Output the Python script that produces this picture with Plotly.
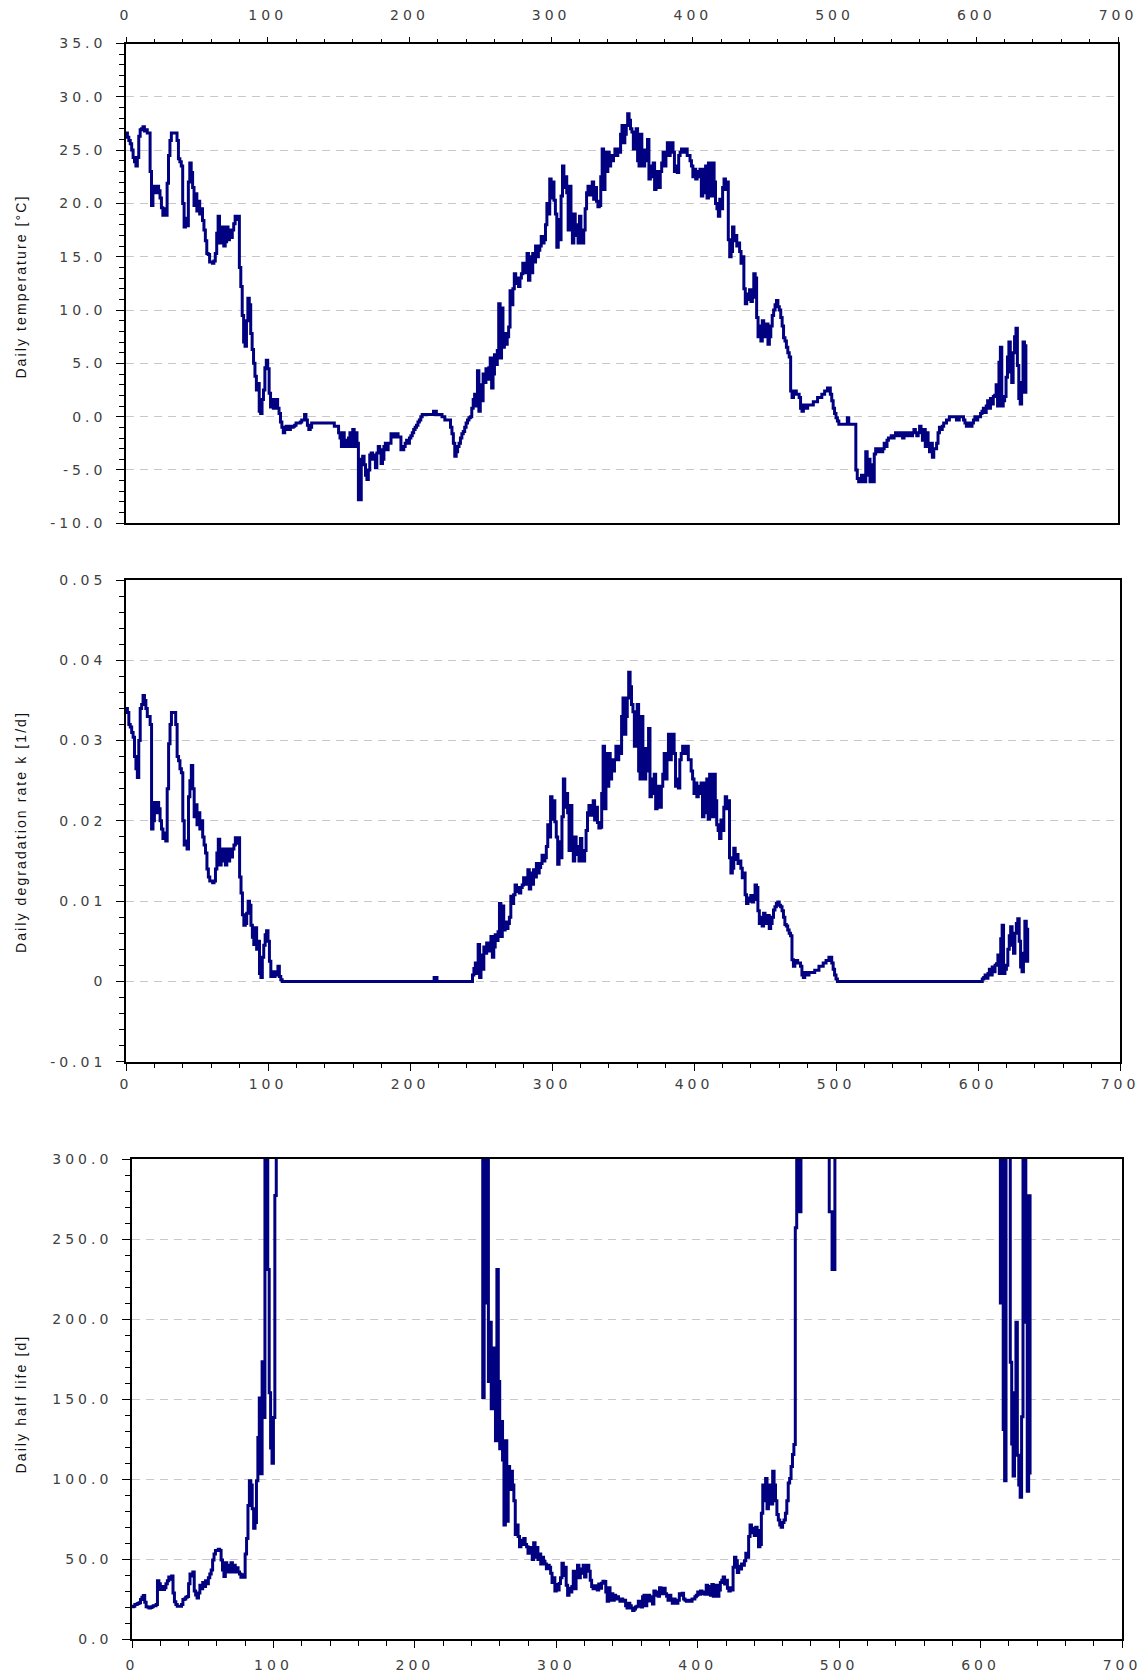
import plotly.graph_objects as go

# Daily mean temperature [°C], one value per day starting at day 0
temperature = [
    26.6, 26.2, 25.9, 25.6, 25.0, 24.3, 23.9, 23.5, 24.3, 26.3,
    26.9, 27.0, 27.2, 26.8, 26.9, 26.6, 26.6, 23.0, 19.8, 21.5,
    21.6, 21.0, 21.6, 21.2, 20.5, 19.6, 18.9, 19.5, 18.9, 21.9,
    24.5, 25.9, 26.6, 26.6, 26.6, 26.6, 25.9, 24.2, 23.9, 23.5,
    20.0, 17.8, 18.6, 17.9, 22.0, 23.8, 22.9, 21.5, 19.8, 20.9,
    19.3, 20.2, 19.0, 19.5, 18.4, 17.5, 16.5, 15.3, 15.2, 14.5,
    14.5, 14.4, 14.6, 15.3, 17.2, 18.8, 16.3, 16.8, 17.8, 16.0,
    16.4, 17.8, 16.6, 17.5, 16.8, 17.5, 18.1, 18.8, 18.5, 18.8,
    14.0, 12.2, 9.5, 7.0, 6.6, 9.0, 11.1, 10.5, 7.8, 6.3,
    5.0, 3.8, 2.5, 3.1, 0.5, 0.3, 1.6, 2.5, 4.6, 5.3,
    4.5, 2.2, 0.9, 1.6, 0.8, 1.3, 1.6, 0.8, 0.3, -0.5,
    -1.0, -1.5, -1.2, -0.9, -1.0, -1.2, -0.9, -1.0, -0.9, -0.8,
    -0.6, -0.6, -0.6, -0.5, -0.3, -0.3, 0.2, -0.3, -0.8, -1.2,
    -1.0, -0.6, -0.6, -0.6, -0.6, -0.6, -0.6, -0.6, -0.6, -0.6,
    -0.6, -0.6, -0.6, -0.6, -0.6, -0.6, -0.6, -0.9, -0.9, -0.9,
    -1.5, -2.0, -2.8, -1.5, -2.8, -2.2, -2.8, -2.0, -1.5, -2.8,
    -1.2, -2.8, -1.5, -2.5, -7.8, -7.8, -4.0, -3.7, -4.5, -5.5,
    -5.9, -5.0, -3.6, -3.4, -4.0, -3.6, -4.8, -3.4, -2.8, -3.1,
    -4.4, -4.0, -2.8, -2.5, -3.1, -2.5, -2.5, -1.6, -1.6, -1.9,
    -1.6, -1.6, -1.9, -1.9, -3.1, -3.1, -2.8, -2.5, -2.2, -2.5,
    -2.0, -1.8, -1.5, -1.2, -1.0, -0.8, -0.5, -0.3, 0.0, 0.2,
    0.2, 0.2, 0.2, 0.2, 0.2, 0.2, 0.2, 0.5, 0.5, 0.2,
    0.2, 0.2, 0.2, 0.0, 0.0, -0.3, -0.3, -0.3, -0.3, -1.0,
    -1.6, -2.5, -3.7, -3.3, -2.8, -2.5, -2.0, -1.6, -1.4, -1.0,
    -0.6, -0.3, -0.1, 0.0, 0.8, 1.6, 2.1, 1.0, 4.3, 0.5,
    3.0, 1.5, 4.0, 3.2, 4.5, 3.5, 4.6, 5.5, 2.7, 4.0,
    5.8, 4.9, 6.2, 10.6, 5.5, 10.2, 6.5, 7.8, 6.8, 7.5,
    8.4, 11.8, 10.5, 12.0, 13.4, 12.5, 13.0, 12.2, 13.0, 13.4,
    14.4, 13.5, 14.0, 15.3, 12.8, 15.0, 13.5, 15.3, 14.5, 16.0,
    15.0, 15.6, 16.0, 16.9, 16.3, 16.6, 18.0, 20.0, 19.0, 22.3,
    20.5, 22.0, 20.3, 19.0, 15.9, 18.5, 16.6, 20.7, 23.5, 21.5,
    22.5, 21.0, 17.5, 21.6, 19.0, 16.3, 19.0, 18.0, 17.0, 16.3,
    18.8, 17.0, 16.3, 17.5, 19.5, 21.0, 21.6, 20.8, 21.0, 22.0,
    20.4, 21.5, 20.2, 19.7, 19.8, 22.5, 25.1, 21.3, 24.8, 23.0,
    24.8, 23.5, 24.5, 24.0, 24.5, 25.1, 24.5, 25.1, 24.8, 26.5,
    27.3, 25.7, 26.5, 27.3, 28.4, 27.8, 27.0, 26.7, 25.1, 26.0,
    27.0, 24.0, 23.5, 26.5, 25.0, 23.5, 24.0, 25.0, 26.0, 22.3,
    23.5, 22.5, 23.8, 21.3, 22.5, 23.0, 21.5, 23.0, 23.8, 24.8,
    23.5, 24.8, 25.7, 24.5, 25.0, 25.7, 24.8, 23.0, 23.5, 22.9,
    24.5, 24.8, 25.1, 25.1, 24.8, 25.1, 24.5, 24.5, 24.0, 23.5,
    22.5, 23.2, 22.3, 23.0, 22.5, 23.2, 20.7, 23.2, 21.0, 23.5,
    20.5, 23.8, 21.5, 20.7, 23.8, 22.0, 20.0, 19.5, 18.8, 20.4,
    19.5, 21.5, 22.3, 21.3, 22.0, 16.6, 15.0, 15.5, 17.8, 16.5,
    17.0, 16.0, 16.3, 15.5, 14.4, 15.0, 12.0, 10.6, 11.5, 11.0,
    11.9, 10.8, 11.2, 13.4, 13.0, 9.3, 7.5, 8.5, 7.1, 9.0,
    8.0, 7.5, 8.7, 6.8, 7.5, 8.5, 9.5, 10.0, 10.5, 10.9,
    10.3, 10.0, 9.3, 8.5, 7.4, 7.1, 6.5, 6.0, 5.6, 2.4,
    1.8, 2.1, 2.4, 2.1, 2.1, 1.8, 0.8, 0.5, 1.1, 0.8,
    0.8, 1.1, 1.1, 1.1, 1.1, 1.4, 1.4, 1.4, 1.8, 1.8,
    1.8, 2.1, 2.1, 2.4, 2.4, 2.7, 2.7, 2.1, 1.5, 0.8,
    0.3, -0.1, -0.4, -0.7, -0.7, -0.7, -0.7, -0.7, -0.7, -0.1,
    -0.7, -0.7, -0.7, -0.7, -0.7, -5.0, -5.8, -6.1, -6.1, -5.5,
    -6.1, -6.1, -3.3, -5.5, -4.0, -6.1, -4.5, -6.1, -3.5, -3.0,
    -3.0, -3.3, -3.0, -3.3, -3.0, -2.5, -2.8, -2.2, -2.0, -2.0,
    -1.8, -2.0, -1.8, -1.5, -1.8, -1.5, -1.8, -1.5, -2.0, -1.5,
    -1.5, -1.8, -1.5, -1.5, -1.8, -1.5, -1.2, -1.5, -1.8, -1.5,
    -0.9, -1.5, -2.2, -1.2, -2.8, -1.5, -2.5, -3.3, -2.5, -3.8,
    -3.0, -3.0, -2.5, -1.5, -1.0, -1.2, -0.9, -0.6, -0.6, -0.3,
    -0.3, 0.0, 0.0, 0.0, 0.0, 0.0, -0.3, -0.3, 0.0, 0.0,
    0.0, -0.3, -0.6, -0.9, -0.9, -0.6, -0.9, -0.6, -0.3, 0.0,
    -0.3, 0.0, 0.0, 0.3, 0.5, 0.8, 0.4, 1.0, 1.5, 0.8,
    1.7, 1.2, 1.9, 2.0, 3.0, 1.0, 5.1, 6.5, 1.0, 1.5,
    1.9, 3.7, 5.6, 7.0, 4.2, 3.2, 6.0, 7.5, 8.3, 4.8,
    1.7, 1.2, 3.2, 7.0, 2.3, 6.8,
]

# Daily degradation rate constant k [1/d]
rate_k = [
    0.0340, 0.0335, 0.0320, 0.0317, 0.0310, 0.0304, 0.0280, 0.0265, 0.0254, 0.0300,
    0.0340, 0.0345, 0.0356, 0.0350, 0.0340, 0.0330, 0.0330, 0.0320, 0.0190, 0.0200,
    0.0223, 0.0210, 0.0223, 0.0215, 0.0200, 0.0190, 0.0178, 0.0185, 0.0175, 0.0240,
    0.0296, 0.0320, 0.0335, 0.0335, 0.0335, 0.0320, 0.0280, 0.0275, 0.0265, 0.0260,
    0.0200, 0.0170, 0.0175, 0.0165, 0.0230, 0.0250, 0.0269, 0.0240, 0.0205, 0.0220,
    0.0195, 0.0210, 0.0190, 0.0200, 0.0180, 0.0170, 0.0160, 0.0140, 0.0130, 0.0125,
    0.0125, 0.0123, 0.0125, 0.0140, 0.0160, 0.0177, 0.0145, 0.0150, 0.0165, 0.0150,
    0.0145, 0.0165, 0.0150, 0.0165, 0.0155, 0.0165, 0.0170, 0.0179, 0.0172, 0.0179,
    0.0130, 0.0110, 0.0083, 0.0070, 0.0072, 0.0085, 0.0100, 0.0095, 0.0070, 0.0055,
    0.0046, 0.0067, 0.0040, 0.0050, 0.0010, 0.0005, 0.0030, 0.0045, 0.0058, 0.0063,
    0.0050, 0.0025, 0.0006, 0.0012, 0.0006, 0.0008, 0.0012, 0.0019, 0.0006, 0.0002,
    0, 0, 0, 0, 0, 0, 0, 0, 0, 0,
    0, 0, 0, 0, 0, 0, 0, 0, 0, 0,
    0, 0, 0, 0, 0, 0, 0, 0, 0, 0,
    0, 0, 0, 0, 0, 0, 0, 0, 0, 0,
    0, 0, 0, 0, 0, 0, 0, 0, 0, 0,
    0, 0, 0, 0, 0, 0, 0, 0, 0, 0,
    0, 0, 0, 0, 0, 0, 0, 0, 0, 0,
    0, 0, 0, 0, 0, 0, 0, 0, 0, 0,
    0, 0, 0, 0, 0, 0, 0, 0, 0, 0,
    0, 0, 0, 0, 0, 0, 0, 0, 0, 0,
    0, 0, 0, 0, 0, 0, 0, 0.0005, 0.0005, 0,
    0, 0, 0, 0, 0, 0, 0, 0, 0, 0,
    0, 0, 0, 0, 0, 0, 0, 0, 0, 0,
    0, 0, 0, 0, 0.0008, 0.0016, 0.0023, 0.0010, 0.0046, 0.0005,
    0.0033, 0.0015, 0.0043, 0.0035, 0.0048, 0.0038, 0.0048, 0.0056, 0.0030, 0.0043,
    0.0058, 0.0051, 0.0062, 0.0097, 0.0056, 0.0094, 0.0064, 0.0074, 0.0066, 0.0072,
    0.0080, 0.0106, 0.0097, 0.0108, 0.0120, 0.0112, 0.0117, 0.0110, 0.0117, 0.0120,
    0.0129, 0.0121, 0.0125, 0.0139, 0.0115, 0.0135, 0.0121, 0.0139, 0.0130, 0.0147,
    0.0135, 0.0142, 0.0147, 0.0157, 0.0150, 0.0154, 0.0168, 0.0195, 0.0180, 0.0230,
    0.0202, 0.0225, 0.0199, 0.0180, 0.0146, 0.0174, 0.0154, 0.0205, 0.0252, 0.0217,
    0.0234, 0.0210, 0.0163, 0.0219, 0.0180, 0.0150, 0.0180, 0.0168, 0.0158, 0.0150,
    0.0178, 0.0158, 0.0150, 0.0163, 0.0188, 0.0210, 0.0219, 0.0207, 0.0210, 0.0225,
    0.0201, 0.0217, 0.0198, 0.0191, 0.0192, 0.0234, 0.0293, 0.0215, 0.0284, 0.0243,
    0.0284, 0.0252, 0.0276, 0.0262, 0.0276, 0.0293, 0.0276, 0.0293, 0.0284, 0.0330,
    0.0353, 0.0308, 0.0330, 0.0353, 0.0385, 0.0367, 0.0345, 0.0336, 0.0293, 0.0315,
    0.0345, 0.0262, 0.0252, 0.0330, 0.0290, 0.0252, 0.0262, 0.0290, 0.0315, 0.0230,
    0.0252, 0.0234, 0.0258, 0.0215, 0.0234, 0.0243, 0.0217, 0.0243, 0.0258, 0.0284,
    0.0252, 0.0284, 0.0308, 0.0276, 0.0290, 0.0308, 0.0284, 0.0243, 0.0252, 0.0241,
    0.0276, 0.0284, 0.0293, 0.0293, 0.0284, 0.0293, 0.0276, 0.0276, 0.0262, 0.0252,
    0.0234, 0.0247, 0.0230, 0.0243, 0.0234, 0.0247, 0.0205, 0.0247, 0.0210, 0.0252,
    0.0202, 0.0258, 0.0217, 0.0205, 0.0258, 0.0225, 0.0195, 0.0188, 0.0178, 0.0201,
    0.0188, 0.0217, 0.0230, 0.0215, 0.0225, 0.0154, 0.0135, 0.0141, 0.0166, 0.0152,
    0.0158, 0.0147, 0.0150, 0.0141, 0.0129, 0.0135, 0.0108, 0.0097, 0.0104, 0.0100,
    0.0107, 0.0099, 0.0102, 0.0120, 0.0117, 0.0088, 0.0072, 0.0080, 0.0069, 0.0085,
    0.0076, 0.0072, 0.0082, 0.0066, 0.0072, 0.0080, 0.0089, 0.0093, 0.0097, 0.0099,
    0.0095, 0.0093, 0.0088, 0.0080, 0.0071, 0.0069, 0.0064, 0.0060, 0.0057, 0.0027,
    0.0019, 0.0023, 0.0026, 0.0023, 0.0023, 0.0019, 0.0008, 0.0005, 0.0011, 0.0008,
    0.0008, 0.0011, 0.0011, 0.0011, 0.0011, 0.0014, 0.0014, 0.0014, 0.0019, 0.0019,
    0.0019, 0.0023, 0.0023, 0.0026, 0.0026, 0.0030, 0.0030, 0.0023, 0.0015, 0.0008,
    0.0003, 0, 0, 0, 0, 0, 0, 0, 0, 0,
    0, 0, 0, 0, 0, 0, 0, 0, 0, 0,
    0, 0, 0, 0, 0, 0, 0, 0, 0, 0,
    0, 0, 0, 0, 0, 0, 0, 0, 0, 0,
    0, 0, 0, 0, 0, 0, 0, 0, 0, 0,
    0, 0, 0, 0, 0, 0, 0, 0, 0, 0,
    0, 0, 0, 0, 0, 0, 0, 0, 0, 0,
    0, 0, 0, 0, 0, 0, 0, 0, 0, 0,
    0, 0, 0, 0, 0, 0, 0, 0, 0, 0,
    0, 0, 0, 0, 0, 0, 0, 0, 0, 0,
    0, 0, 0, 0.0003, 0.0005, 0.0008, 0.0004, 0.0010, 0.0015, 0.0008,
    0.0018, 0.0012, 0.0020, 0.0022, 0.0033, 0.0010, 0.0053, 0.0070, 0.0010, 0.0015,
    0.0020, 0.0040, 0.0057, 0.0068, 0.0045, 0.0035, 0.0060, 0.0072, 0.0078, 0.0050,
    0.0018, 0.0012, 0.0035, 0.0075, 0.0025, 0.0067,
]

# Daily half life [d]; None where no degradation takes place
half_life = [
    20.4, 20.7, 21.7, 21.9, 22.4, 22.8, 24.8, 26.2, 27.3, 23.1,
    20.4, 20.1, 19.5, 19.8, 20.4, 21.0, 21.0, 21.7, 36.5, 34.7,
    31.1, 33.0, 31.1, 32.2, 34.7, 36.5, 38.9, 37.5, 39.6, 28.9,
    23.4, 21.7, 20.7, 20.7, 20.7, 21.7, 24.8, 25.2, 26.2, 26.7,
    34.7, 40.8, 39.6, 42.0, 30.1, 27.7, 25.8, 28.9, 33.8, 31.5,
    35.5, 33.0, 36.5, 34.7, 38.5, 40.8, 43.3, 49.5, 53.3, 55.4,
    55.4, 56.3, 55.4, 49.5, 43.3, 39.2, 47.8, 46.2, 42.0, 46.2,
    47.8, 42.0, 46.2, 42.0, 44.7, 42.0, 40.8, 38.7, 40.3, 38.7,
    53.3, 63.0, 83.5, 99.0, 96.3, 81.5, 69.3, 72.9, 99.0, 126.0,
    150.7, 103.4, 173.3, 138.6, 693.0, 1386.0, 231.0, 154.0, 119.5, 110.0,
    138.6, 277.2, 1155.0, 577.5, 1155.0, 866.3, 577.5, 364.7, 1155.0, 3465.0,
    None, None, None, None, None, None, None, None, None, None,
    None, None, None, None, None, None, None, None, None, None,
    None, None, None, None, None, None, None, None, None, None,
    None, None, None, None, None, None, None, None, None, None,
    None, None, None, None, None, None, None, None, None, None,
    None, None, None, None, None, None, None, None, None, None,
    None, None, None, None, None, None, None, None, None, None,
    None, None, None, None, None, None, None, None, None, None,
    None, None, None, None, None, None, None, None, None, None,
    None, None, None, None, None, None, None, None, None, None,
    None, None, None, None, None, None, None, None, None, None,
    None, None, None, None, None, None, None, None, None, None,
    None, None, None, None, None, None, None, None, None, None,
    None, None, None, None, 866.0, 433.0, 301.0, 693.0, 151.0, 1386.0,
    210.0, 462.0, 161.0, 198.0, 144.0, 182.0, 144.0, 124.0, 231.0, 161.0,
    119.0, 136.0, 112.0, 71.4, 124.0, 73.7, 108.0, 93.6, 105.0, 96.3,
    86.6, 65.4, 71.4, 64.2, 57.8, 61.9, 59.2, 63.0, 59.2, 57.8,
    53.7, 57.3, 55.4, 49.9, 60.3, 51.3, 57.3, 49.9, 53.3, 47.1,
    51.3, 48.8, 47.1, 44.1, 46.2, 45.0, 41.3, 35.5, 38.5, 30.1,
    34.3, 30.8, 34.8, 38.5, 47.5, 39.8, 45.0, 33.8, 27.5, 31.9,
    29.6, 33.0, 42.5, 31.6, 38.5, 46.2, 38.5, 41.3, 43.9, 46.2,
    38.9, 43.9, 46.2, 42.5, 36.9, 33.0, 31.6, 33.5, 33.0, 30.8,
    34.5, 31.9, 35.0, 36.3, 36.1, 29.6, 23.7, 32.2, 24.4, 28.5,
    24.4, 27.5, 25.1, 26.5, 25.1, 23.7, 25.1, 23.7, 24.4, 21.0,
    19.6, 22.5, 21.0, 19.6, 18.0, 18.9, 20.1, 20.6, 23.7, 22.0,
    20.1, 26.5, 27.5, 21.0, 23.9, 27.5, 26.5, 23.9, 22.0, 30.1,
    27.5, 29.6, 26.9, 32.2, 29.6, 28.5, 31.9, 28.5, 26.9, 24.4,
    27.5, 24.4, 22.5, 25.1, 23.9, 22.5, 24.4, 28.5, 27.5, 28.8,
    25.1, 24.4, 23.7, 23.7, 24.4, 23.7, 25.1, 25.1, 26.5, 27.5,
    29.6, 28.1, 30.1, 28.5, 29.6, 28.1, 33.8, 28.1, 33.0, 27.5,
    34.3, 26.9, 31.9, 33.8, 26.9, 30.8, 35.5, 36.9, 38.9, 34.5,
    36.9, 31.9, 30.1, 32.2, 30.8, 45.0, 51.3, 49.1, 41.7, 45.6,
    43.9, 47.1, 46.2, 49.1, 53.7, 51.3, 64.2, 71.4, 66.6, 69.3,
    64.8, 70.0, 67.9, 57.8, 59.2, 78.8, 96.3, 86.6, 100.4, 81.5,
    91.2, 96.3, 84.5, 105.0, 96.3, 86.6, 77.9, 74.5, 71.4, 70.0,
    72.9, 74.5, 78.8, 86.6, 97.6, 100.4, 108.0, 115.5, 121.6, 257.0,
    365.0, 301.0, 267.0, 301.0, 301.0, 365.0, 866.0, 1386.0, 630.0, 866.0,
    866.0, 630.0, 630.0, 630.0, 630.0, 495.0, 495.0, 495.0, 365.0, 365.0,
    365.0, 301.0, 301.0, 267.0, 267.0, 231.0, 231.0, 301.0, 462.0, 866.0,
    2310.0, None, None, None, None, None, None, None, None, None,
    None, None, None, None, None, None, None, None, None, None,
    None, None, None, None, None, None, None, None, None, None,
    None, None, None, None, None, None, None, None, None, None,
    None, None, None, None, None, None, None, None, None, None,
    None, None, None, None, None, None, None, None, None, None,
    None, None, None, None, None, None, None, None, None, None,
    None, None, None, None, None, None, None, None, None, None,
    None, None, None, None, None, None, None, None, None, None,
    None, None, None, None, None, None, None, None, None, None,
    None, None, None, 2310.0, 1386.0, 866.0, 1733.0, 693.0, 462.0, 866.0,
    385.0, 578.0, 347.0, 315.0, 210.0, 693.0, 131.0, 99.0, 693.0, 462.0,
    347.0, 173.0, 122.0, 102.0, 154.0, 198.0, 115.0, 96.3, 88.8, 139.0,
    385.0, 578.0, 198.0, 92.4, 277.0, 103.0,
]

assert len(temperature) == len(rate_k) == len(half_life)
days = list(range(len(temperature)))

# Tick values and their printed labels
temp_ticks = [-10, -5, 0, 5, 10, 15, 20, 25, 30, 35]
temp_labels = ["-10.0", "-5.0", "0.0", "5.0", "10.0", "15.0", "20.0", "25.0", "30.0", "35.0"]
k_ticks = [-0.01, 0.0, 0.01, 0.02, 0.03, 0.04, 0.05]
k_labels = ["-0.01", "0", "0.01", "0.02", "0.03", "0.04", "0.05"]
hl_ticks = [0, 50, 100, 150, 200, 250, 300]
hl_labels = ["0.0", "50.0", "100.0", "150.0", "200.0", "250.0", "300.0"]

titles = ["Daily temperature [°C]", "Daily degradation rate k [1/d]", "Daily half life [d]"]

W, H = 1146, 1676
LINE = "#000080"
TICK_FONT = dict(family="DejaVu Sans", size=14, color="#404040")
TITLE_FONT = dict(family="Liberation Sans", size=14, color="#111111")


def fx(px):
    return px / W


def fy(px):
    return 1 - px / H


def x_axis(domain, anchor, side, major_len, minor_len, standoff):
    return dict(
        domain=domain, anchor=anchor, side=side, range=[0, 700],
        tickmode="linear", tick0=0, dtick=100,
        ticks="outside", ticklen=major_len, tickwidth=1.4, tickcolor="black",
        minor=dict(tickmode="linear", tick0=0, dtick=20, ticks="outside",
                   ticklen=minor_len, tickwidth=1.2, tickcolor="black", showgrid=False),
        showline=True, linecolor="black", linewidth=1.6, mirror=True,
        showgrid=False, zeroline=False, tickfont=TICK_FONT,
        ticklabelstandoff=standoff, automargin=False, fixedrange=True,
    )


def y_axis(domain, anchor, rng, tickvals, ticktext, minor_vals):
    return dict(
        domain=domain, anchor=anchor, range=rng,
        tickmode="array", tickvals=tickvals, ticktext=ticktext,
        ticks="outside", ticklen=8, tickwidth=1.4, tickcolor="black",
        minor=dict(tickmode="array", tickvals=minor_vals, ticks="outside",
                   ticklen=5.5, tickwidth=1.2, tickcolor="black", showgrid=False),
        showline=True, linecolor="black", linewidth=1.6, mirror=True,
        showgrid=True, gridcolor="#c8c8c8", gridwidth=1.3, griddash="8px,6px",
        zeroline=False, tickfont=TICK_FONT, ticklabelstandoff=7,
        automargin=False, fixedrange=True,
    )


fig = go.Figure()
trace_line = dict(color=LINE, width=3, shape="hv")
fig.add_trace(go.Scatter(x=days, y=temperature, mode="lines", xaxis="x", yaxis="y",
                         line=trace_line, showlegend=False))
fig.add_trace(go.Scatter(x=days, y=rate_k, mode="lines", xaxis="x2", yaxis="y2",
                         line=trace_line, showlegend=False))
fig.add_trace(go.Scatter(x=days, y=half_life, mode="lines", xaxis="x3", yaxis="y3",
                         line=trace_line, connectgaps=False, showlegend=False))

temp_minor = [v for v in range(-10, 36)]
k_minor = [round(-0.01 + 0.002 * i, 4) for i in range(31)]
hl_minor = [v for v in range(0, 301, 10)]

fig.update_layout(
    template="none",
    width=W, height=H,
    margin=dict(l=0, r=0, t=0, b=0, autoexpand=False),
    paper_bgcolor="white", plot_bgcolor="white",
    xaxis=x_axis([fx(126), fx(1118)], "y", "top", 5, 3, 11),
    yaxis=y_axis([fy(523.3), fy(43.5)], "x", [-10, 35], temp_ticks, temp_labels, temp_minor),
    xaxis2=x_axis([fx(126), fx(1120)], "y2", "bottom", 7, 4.5, 2),
    yaxis2=y_axis([fy(1061.7), fy(580)], "x2", [-0.01, 0.05], k_ticks, k_labels, k_minor),
    xaxis3=x_axis([fx(132), fx(1122)], "y3", "bottom", 7, 4.5, 5),
    yaxis3=y_axis([fy(1639.3), fy(1159)], "x3", [0, 300], hl_ticks, hl_labels, hl_minor),
)

# Rotated axis titles at the left edge of each panel
for text, yc in zip(titles, [287, 832, 1404]):
    fig.add_annotation(text=text, textangle=-90, showarrow=False,
                       xref="paper", yref="paper", x=fx(20.5), y=fy(yc),
                       xanchor="center", yanchor="middle", font=TITLE_FONT)

# Page without body margin or scrollbars; wide character spacing for labels
page_css = ("html, body { margin: 0; padding: 0; overflow: hidden; } "
            "g[class$='tick'] > text { letter-spacing: 4px; } "
            ".annotation-text { letter-spacing: 2.1px; }")
post = ("var st = document.createElement('style');"
        "st.textContent = \"" + page_css + "\";"
        "document.head.appendChild(st);")

fig.write_html("out.html", post_script=post, config={"responsive": False})
